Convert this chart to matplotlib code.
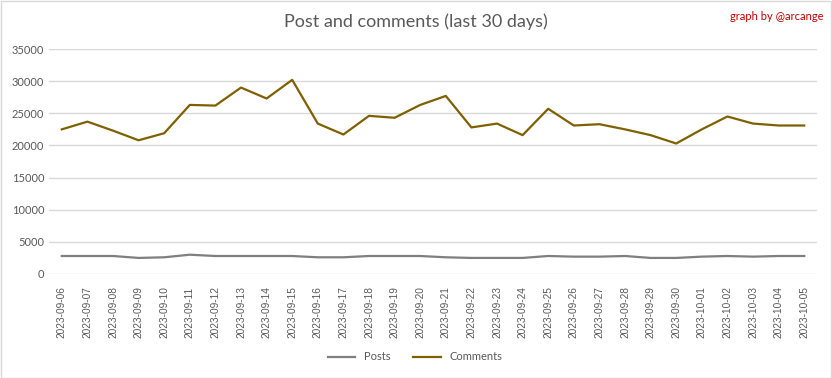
import matplotlib
matplotlib.use("Agg")
import matplotlib.pyplot as plt
import pandas as pd

dates = pd.date_range("2023-09-06", "2023-10-05").strftime("%Y-%m-%d").tolist()
posts = [2800, 2800, 2800, 2500, 2600, 3000, 2800, 2800, 2800, 2800,
         2600, 2600, 2800, 2800, 2800, 2600, 2500, 2500, 2500, 2800,
         2700, 2700, 2800, 2500, 2500, 2700, 2800, 2700, 2800, 2800]
comments = [22500, 23700, 22300, 20800, 21900, 26300, 26200, 29000, 27300, 30200,
            23400, 21700, 24600, 24300, 26300, 27700, 22800, 23400, 21600, 25700,
            23100, 23300, 22500, 21600, 20300, 22500, 24500, 23400, 23100, 23100]
yticks = [0, 5000, 10000, 15000, 20000, 25000, 30000, 35000]

plt.rcParams['font.family'] = ['Lato', 'DejaVu Sans']

fig = plt.figure(figsize=(8.32, 3.78), dpi=100)
ax = fig.add_axes([49/832, 1-274/378, (817-49)/832, (274-49)/378])

x = list(range(len(dates)))
ax.plot(x, posts, color='#7f7f7f', lw=1.6, label='Posts')
ax.plot(x, comments, color='#7f6000', lw=1.6, label='Comments')

ax.set_xlim(-0.5, len(dates)-0.5)
ax.set_ylim(0, 35000)
ax.set_yticks(yticks)
ax.set_yticklabels([str(v) for v in yticks])
ax.set_xticks(x)
ax.set_xticklabels(dates, rotation=90, family=['Liberation Sans', 'DejaVu Sans'], fontsize=7.3)
ax.tick_params(axis='both', length=0, colors='#595959')
ax.tick_params(axis='y', labelsize=8)
ax.tick_params(axis='x', pad=9)
ax.grid(axis='y', color='#d9d9d9', lw=1)
ax.set_axisbelow(True)
for s in ax.spines.values():
    s.set_visible(False)

fig.text(0.5, 1-22/378, 'Post and comments (last 30 days)', ha='center', va='center',
         fontsize=13, color='#595959')
fig.text(1-8/832, 1-16/378, 'graph by @arcange', ha='right', va='center',
         fontsize=8, color='#c00000')

fig.legend(loc='center', bbox_to_anchor=(415/832, 1-357/378), ncol=2, frameon=False,
           fontsize=8, labelcolor='#595959', handlelength=2.5, columnspacing=2)

fig.patches.append(plt.Rectangle((0.001, 0.001), 0.998, 0.997, transform=fig.transFigure,
                                 fill=False, edgecolor='#d9d9d9', lw=1))

fig.savefig('out.png', dpi=100)
